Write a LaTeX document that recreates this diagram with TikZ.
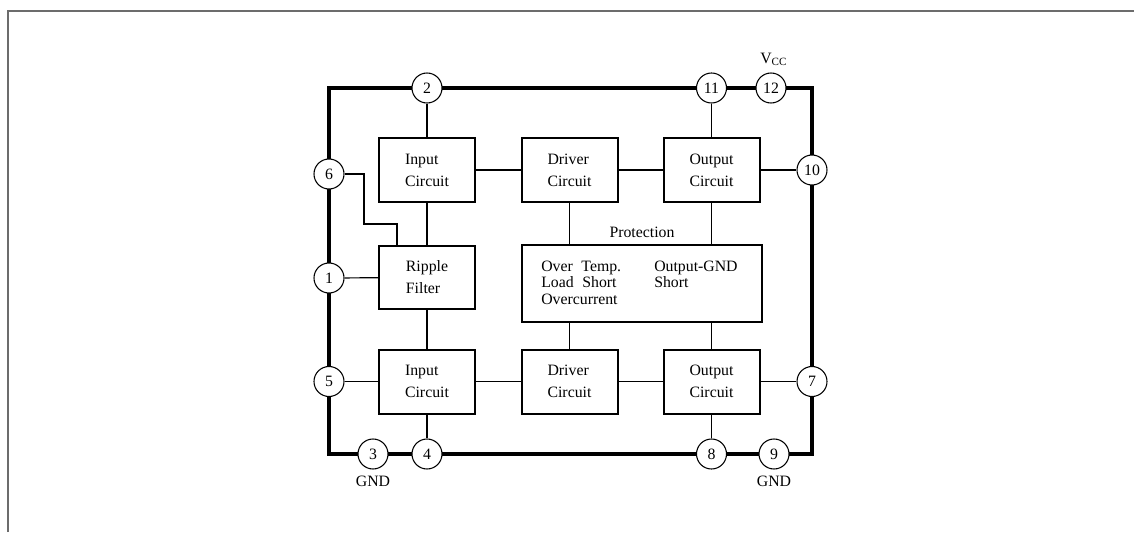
\documentclass[tikz,border=0pt]{standalone}
\usepackage{fontspec}
\setmainfont{Liberation Serif}
\begin{document}
\begin{tikzpicture}[x=0.75pt,y=-0.75pt,
  txt/.style={font=\fontsize{11.85pt}{16.5pt}\selectfont},
  blk/.style={draw, line width=1.5pt, minimum width=72pt, minimum height=48pt, inner sep=0pt, align=left, txt},
  pin/.style={circle, draw, fill=white, line width=0.8pt, minimum size=22.5pt, inner sep=0pt, txt},
  wire/.style={line width=0.9pt},
  lbl/.style={inner sep=0pt, txt}]
\useasboundingbox (0,0) rectangle (1134,532);
\fill[white] (0,0) rectangle (1134,532);
% outer gray frame
\draw[line width=1.1pt, gray!85!black] (8,532) -- (8,11) -- (1134,11);
% package outline
\draw[line width=2.5pt] (329,88) rectangle (812,454);
% blocks
\node[blk] (in1) at (427,170) {Input\\Circuit};
\node[blk] (dr1) at (569.5,170) {Driver\\Circuit};
\node[blk] (out1) at (711.5,170) {Output\\Circuit};
\node[blk, minimum height=47.25pt] (rip) at (427,277.5) {Ripple\\Filter};
\node[draw, line width=1.5pt, minimum width=180pt, minimum height=57.75pt, inner sep=0pt] (prot) at (642,283.5) {};
\node[blk] (in2) at (427,381.5) {Input\\Circuit};
\node[blk] (dr2) at (569.5,381.5) {Driver\\Circuit};
\node[blk] (out2) at (711.5,381.5) {Output\\Circuit};
% protection texts
\node[lbl, anchor=base] (ptitle) at (642,237) {Protection};
\node[lbl, anchor=base west] (pl1) at (541,271) {Over\hspace{3.5pt}\ Temp.};
\node[lbl, anchor=base west] (pl2) at (541,287.5) {Load\hspace{3.5pt}\ Short};
\node[lbl, anchor=base west] (pl3) at (541,304) {Overcurrent};
\node[lbl, anchor=base west] (pr1) at (654,271) {Output-GND};
\node[lbl, anchor=base west] (pr2) at (654,287.5) {Short};
% pins
\node[pin] (p2) at (427,88) {2};
\node[pin] (p11) at (711.5,88) {11};
\node[pin] (p12) at (771,88) {12};
\node[pin] (p6) at (329,174) {6};
\node[pin] (p10) at (812,170) {10};
\node[pin] (p1) at (329,278) {1};
\node[pin] (p5) at (329,381.5) {5};
\node[pin] (p7) at (812,381.5) {7};
\node[pin] (p3) at (373,454) {3};
\node[pin] (p4) at (427,454) {4};
\node[pin] (p8) at (711.5,454) {8};
\node[pin] (p9) at (774,454) {9};
% pin labels
\node[lbl, anchor=base west] (vcc) at (760,63) {V\textsubscript{CC}};
\node[lbl, anchor=base] (gnd1) at (373,486) {GND};
\node[lbl, anchor=base] (gnd2) at (774,486) {GND};
% connections
\coordinate (k1) at (364,224);
\coordinate (k2) at (397,224);
\draw[wire] (p2) -- (in1);
\draw[wire] (p11) -- (out1);
\draw[wire] (in1) -- (dr1);
\draw[wire] (dr1) -- (out1);
\draw[wire] (out1) -- (p10);
\draw[wire] (in1) -- (rip);
\draw[wire] (p6.east) -| (k1) -- (k2) -- (k2 |- rip.north);
\draw[wire] (p1) -- (rip);
\draw[wire] (dr1.south) -- (dr1.south |- prot.north);
\draw[wire] (out1.south) -- (out1.south |- prot.north);
\draw[wire] (prot.south -| dr2.north) -- (dr2.north);
\draw[wire] (prot.south -| out2.north) -- (out2.north);
\draw[wire] (rip) -- (in2);
\draw[wire] (p5) -- (in2);
\draw[wire] (in2) -- (dr2);
\draw[wire] (dr2) -- (out2);
\draw[wire] (out2) -- (p7);
\draw[wire] (in2) -- (p4);
\draw[wire] (out2) -- (p8);
\end{tikzpicture}
\end{document}
